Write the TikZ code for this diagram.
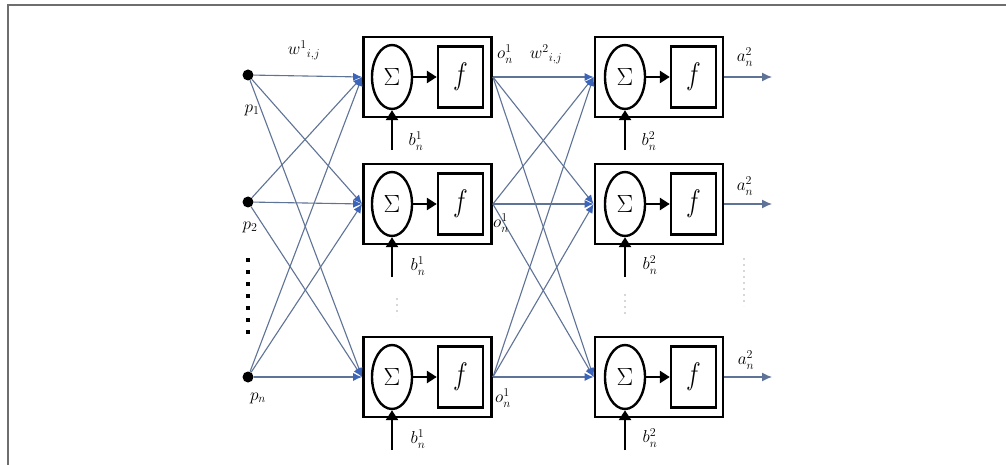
\documentclass[tikz,border=0pt]{standalone}
\usetikzlibrary{arrows.meta,shapes.geometric,calc}
\definecolor{connc}{RGB}{95,115,150}
\definecolor{tipblue}{RGB}{60,100,185}
\definecolor{framegray}{RGB}{110,110,110}
\definecolor{faint}{RGB}{215,215,215}
\begin{document}
\begin{tikzpicture}[x=1pt,y=-1pt,
  dot/.style={circle,fill=black,inner sep=0,minimum size=11pt},
  neuron/.style={draw,line width=2.8pt,minimum width=128pt,minimum height=80pt,inner sep=0},
  sumnode/.style={ellipse,draw,line width=2.4pt,minimum width=40pt,minimum height=64pt,inner sep=0,font=\fontsize{25}{27}\selectfont},
  fnode/.style={draw,line width=2.4pt,minimum width=45pt,minimum height=61pt,inner sep=0,font=\fontsize{30}{32}\selectfont},
  wire/.style={draw=connc,line width=1.1pt,-{Latex[length=9pt,width=8pt,color=tipblue]}},
  outwire/.style={draw=connc,line width=1.3pt,-{Latex[length=10pt,width=9pt,color=connc]}},
  thickarrow/.style={line width=2.6pt,-{Triangle[length=10pt,width=12pt]}},
  lbl/.style={font=\fontsize{18}{20}\selectfont,inner sep=0},
  faintdots/.style={draw=faint,line width=1.6pt,dash pattern=on 2pt off 4pt}
]
\useasboundingbox (0,0) rectangle (1006,465);
\fill[white] (0,0) rectangle (1006,465);
% frame
\draw[framegray,line width=2.5pt] (8,465) -- (8,5) -- (1006,5);

% inputs
\node[dot] (p1) at (248,75) {};
\node[dot] (p2) at (248,202) {};
\node[dot] (p3) at (248,377) {};
\coordinate (dA) at (248,258);
\coordinate (dB) at (248,334);
\draw[line width=4pt,dash pattern=on 4pt off 8pt] (dA) -- (dB);

% layer 1
\foreach \i/\y in {1/77,2/204,3/377}{
  \node[neuron] (A\i) at (427.5,\y) {};
  \node[sumnode] (S\i) at (392,\y) {$\Sigma$};
  \node[fnode] (F\i) at (460.5,\y) {\scalebox{1}[1.25]{$f$}};
  \draw[thickarrow] (S\i) -- (F\i);
  \coordinate (bA\i) at ($(S\i.south)+(0,40)$);
  \draw[thickarrow] (bA\i) -- (S\i.south);
}
% layer 2
\foreach \i/\y in {1/77,2/204,3/377}{
  \node[neuron] (B\i) at (659,\y) {};
  \node[sumnode] (T\i) at (625,\y) {$\Sigma$};
  \node[fnode] (G\i) at (693.5,\y) {\scalebox{1}[1.25]{$f$}};
  \draw[thickarrow] (T\i) -- (G\i);
  \coordinate (bB\i) at ($(T\i.south)+(0,40)$);
  \draw[thickarrow] (bB\i) -- (T\i.south);
  \coordinate (out\i) at (772,\y);
  \draw[outwire] (B\i.east) -- (out\i);
}

% connections
\foreach \i in {1,2,3}{
  \foreach \j in {1,2,3}{
    \draw[wire] (p\i) -- (A\j.west);
    \draw[wire] (A\i.east) -- (B\j.west);
  }
}

% faint dots
\coordinate (fa1) at (397,298); \coordinate (fa2) at (397,316);
\coordinate (fb1) at (625,294); \coordinate (fb2) at (625,316);
\coordinate (fc1) at (744,258); \coordinate (fc2) at (744,306);
\draw[faintdots] (fa1) -- (fa2);
\draw[faintdots] (fb1) -- (fb2);
\draw[faintdots] (fc1) -- (fc2);

% labels
\node[lbl] (lw1) at (304,50) {$w^{1}{}_{i,j}$};
\node[lbl] (lw2) at (546,54) {$w^{2}{}_{i,j}$};
\node[lbl] (lp1) at (252,110) {$p_1$};
\node[lbl] (lp2) at (250,227) {$p_2$};
\node[lbl] (lp3) at (258,398) {$p_n$};
\node[lbl] (lo1) at (505,54) {$o^1_n$};
\node[lbl] (lo2) at (501,223) {$o^1_n$};
\node[lbl] (lo3) at (503,398) {$o^1_n$};
\node[lbl] (la1) at (745,57) {$a^2_n$};
\node[lbl] (la2) at (745,186) {$a^2_n$};
\node[lbl] (la3) at (746,360) {$a^2_n$};
\node[lbl] (lb1) at (416,141) {$b^1_n$};
\node[lbl] (lb2) at (418,266) {$b^1_n$};
\node[lbl] (lb3) at (418,439) {$b^1_n$};
\node[lbl] (lc1) at (649,141) {$b^2_n$};
\node[lbl] (lc2) at (650,265) {$b^2_n$};
\node[lbl] (lc3) at (650,438) {$b^2_n$};
\end{tikzpicture}
\end{document}
